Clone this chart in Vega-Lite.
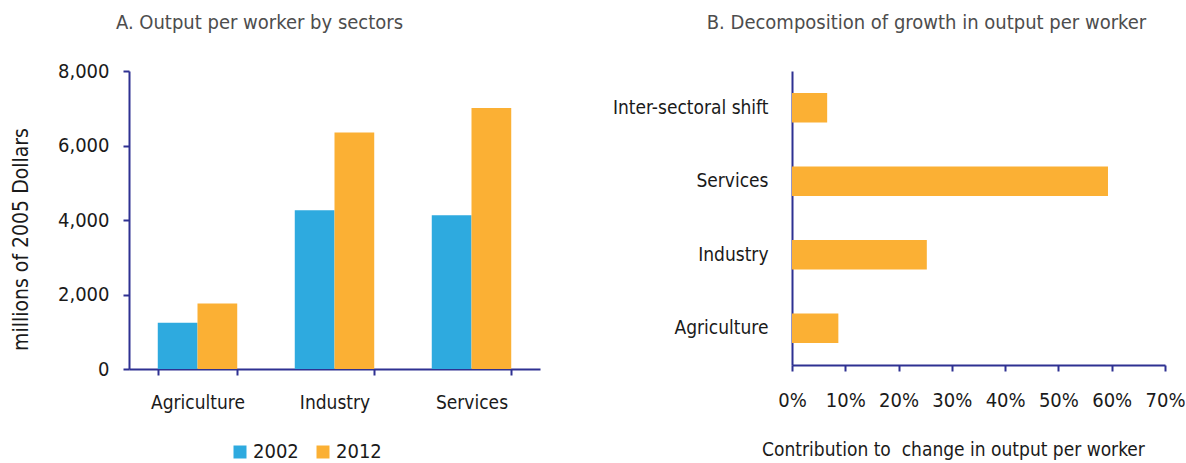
{
  "$schema": "https://vega.github.io/schema/vega-lite/v6.json",
  "padding": {"left": 10, "top": 13, "right": 0, "bottom": 0},
  "background": "white",
  "spacing": 72,
  "config": {
    "font": "DejaVu Sans Condensed, DejaVu Sans, sans-serif",
    "view": {"stroke": null},
    "axis": {
      "domainColor": "#2E3192",
      "domainWidth": 2,
      "tickColor": "#2E3192",
      "tickWidth": 2,
      "tickSize": 6,
      "labelColor": "#1a1a1a",
      "labelFontSize": 20,
      "labelLimit": 300,
      "titleColor": "#1a1a1a",
      "titleFontWeight": "normal",
      "titleFontSize": 19,
      "grid": false
    },
    "title": {"fontSize": 20, "fontWeight": "normal", "color": "#4d4d4d"}
  },
  "datasets": {
    "sectors": [
      {"sector": "Agriculture", "year": "2002", "output": 1240},
      {"sector": "Agriculture", "year": "2012", "output": 1760},
      {"sector": "Industry", "year": "2002", "output": 4260},
      {"sector": "Industry", "year": "2012", "output": 6350},
      {"sector": "Services", "year": "2002", "output": 4130},
      {"sector": "Services", "year": "2012", "output": 7010}
    ],
    "decomp": [
      {"component": "Inter-sectoral shift", "share": 0.066},
      {"component": "Services", "share": 0.593},
      {"component": "Industry", "share": 0.253},
      {"component": "Agriculture", "share": 0.087}
    ]
  },
  "hconcat": [
    {
      "width": 411,
      "height": 298,
      "title": {"text": "A. Output per worker by sectors", "anchor": "middle", "dx": -75, "offset": 28},
      "data": {"name": "sectors"},
      "mark": {"type": "bar"},
      "encoding": {
        "x": {
          "field": "sector", "type": "nominal", "sort": ["Agriculture", "Industry", "Services"],
          "scale": {"paddingInner": 0.42, "paddingOuter": 0.21},
          "axis": {"title": null, "labelAngle": 0, "tickBand": "extent", "labelPadding": 18, "labelFontSize": 19}
        },
        "xOffset": {"field": "year", "type": "nominal"},
        "y": {
          "field": "output", "type": "quantitative",
          "scale": {"domain": [0, 8000]},
          "axis": {"title": "millions of 2005 Dollars", "titleFontSize": 21, "titleY": 168, "values": [0, 2000, 4000, 6000, 8000], "format": ",d", "labelPadding": 14, "titlePadding": 26}
        },
        "color": {
          "field": "year", "type": "nominal",
          "scale": {"domain": ["2002", "2012"], "range": ["#2EAADF", "#FBB034"]},
          "legend": {"title": null, "orient": "none", "legendX": 101, "legendY": 371, "direction": "horizontal", "symbolType": "square", "symbolSize": 169, "symbolStrokeWidth": 0, "labelFontSize": 20, "labelColor": "#1a1a1a", "labelOffset": 3, "columnPadding": 14}
        }
      }
    },
    {
      "width": 373,
      "height": 294,
      "title": {"text": "B. Decomposition of growth in output per worker", "anchor": "middle", "dx": -52, "offset": 38},
      "data": {"name": "decomp"},
      "mark": {"type": "bar", "color": "#FBB034"},
      "encoding": {
        "y": {
          "field": "component", "type": "nominal",
          "sort": ["Inter-sectoral shift", "Services", "Industry", "Agriculture"],
          "scale": {"paddingInner": 0.6, "paddingOuter": 0.3},
          "axis": {"title": null, "ticks": false, "labelPadding": 24, "labelFontSize": 19}
        },
        "x": {
          "field": "share", "type": "quantitative",
          "scale": {"domain": [0, 0.7]},
          "axis": {"title": "Contribution to \u00a0change in output per worker", "titleX": 161, "values": [0, 0.1, 0.2, 0.3, 0.4, 0.5, 0.6, 0.7], "format": ".0%", "labelPadding": 19, "titlePadding": 30, "labelFlush": false}
        }
      }
    }
  ]
}
